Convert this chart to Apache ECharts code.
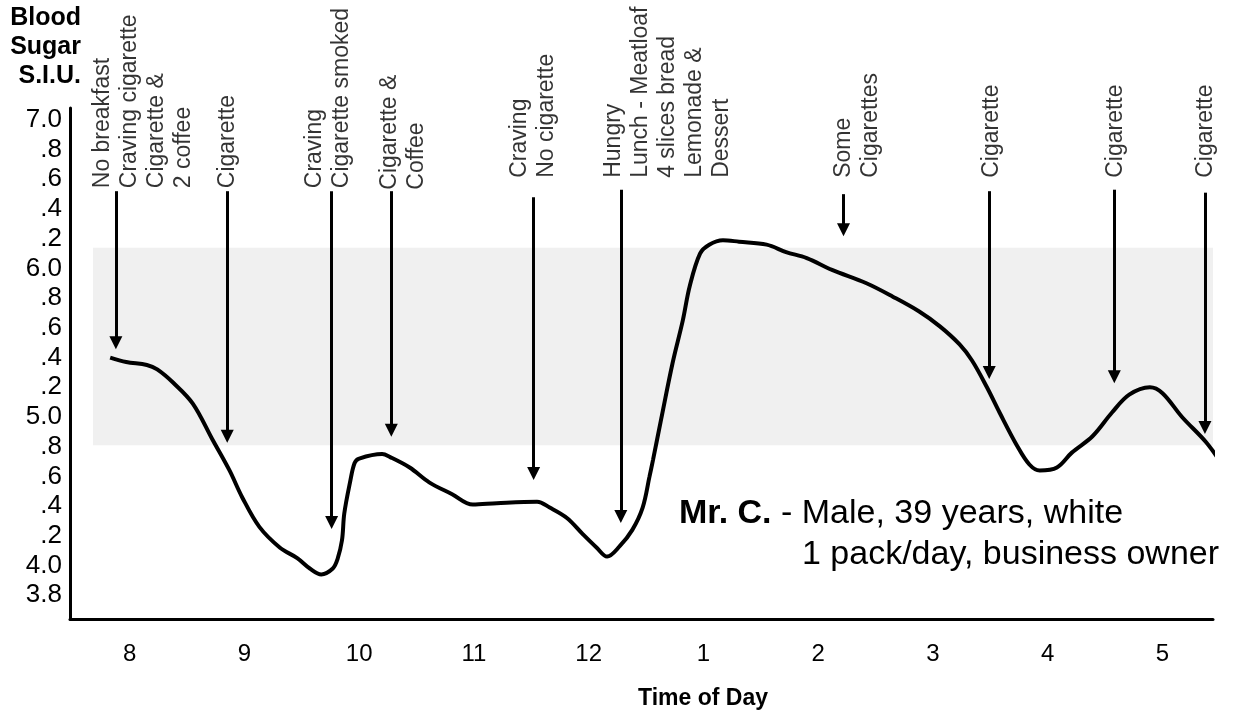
<!DOCTYPE html>
<html><head><meta charset="utf-8">
<script src="https://cdn.jsdelivr.net/npm/echarts@6/dist/echarts.min.js"></script>
<style>html,body{margin:0;padding:0;background:#fff}#c{width:1244px;height:715px}</style>
</head><body><div id="c"></div>
<script>
// Time of day (hours, 24h clock) and blood sugar (S.I.U.)
const timeHours = [7.83, 7.97, 8.15, 8.24, 8.38, 8.55, 8.72, 8.87, 8.98, 9.13, 9.31, 9.46, 9.57, 9.67, 9.77, 9.81, 9.85, 9.87, 9.92, 9.96, 10.00, 10.20, 10.27, 10.44, 10.61, 10.81, 10.99, 11.20, 11.55, 11.66, 11.81, 11.95, 12.07, 12.16, 12.27, 12.38, 12.47, 12.53, 12.56, 12.63, 12.73, 12.82, 12.88, 12.97, 13.05, 13.17, 13.31, 13.55, 13.72, 13.90, 14.12, 14.42, 14.65, 14.88, 15.06, 15.23, 15.34, 15.47, 15.58, 15.73, 15.84, 15.93, 16.08, 16.21, 16.39, 16.56, 16.71, 16.89, 17.00, 17.17, 17.38, 17.52];
const bloodSugar = [5.40, 5.37, 5.35, 5.32, 5.23, 5.09, 4.85, 4.64, 4.46, 4.26, 4.12, 4.05, 3.98, 3.94, 3.98, 4.04, 4.17, 4.35, 4.56, 4.69, 4.72, 4.75, 4.73, 4.66, 4.56, 4.48, 4.41, 4.42, 4.43, 4.39, 4.32, 4.21, 4.12, 4.06, 4.13, 4.24, 4.39, 4.60, 4.71, 4.98, 5.36, 5.65, 5.88, 6.10, 6.16, 6.19, 6.18, 6.16, 6.11, 6.07, 5.99, 5.90, 5.81, 5.71, 5.61, 5.49, 5.38, 5.20, 5.03, 4.81, 4.68, 4.64, 4.66, 4.76, 4.87, 5.03, 5.15, 5.20, 5.16, 5.00, 4.83, 4.68];

// Normal range band
const bandLow = 4.81;
const bandHigh = 6.14;
const bandStart = 7.68;
const bandEnd = 17.49;

// Event annotations
const noteTexts = [
  'No breakfast\nCraving cigarette\nCigarette &\n2 coffee',
  'Cigarette',
  'Craving\nCigarette smoked',
  'Cigarette &\nCoffee',
  'Craving\nNo cigarette',
  'Hungry\nLunch - Meatloaf\n4 slices bread\nLemonade &\nDessert',
  'Some\nCigarettes',
  'Cigarette',
  'Cigarette',
  'Cigarette'
];
const noteX = [8.12, 8.85, 9.73, 10.38, 11.52, 12.69, 14.34, 15.51, 16.59, 17.38];
const noteY = [6.54, 6.54, 6.54, 6.53, 6.61, 6.61, 6.61, 6.61, 6.61, 6.61];
const arrowX = [7.88, 8.85, 9.76, 10.28, 11.52, 12.28, 14.22, 15.49, 16.58, 17.37];
const arrowTop = [6.52, 6.52, 6.52, 6.52, 6.48, 6.53, 6.50, 6.52, 6.53, 6.51];
const arrowTip = [5.50, 4.87, 4.29, 4.91, 4.62, 4.33, 6.26, 5.30, 5.27, 4.93];

// Axis ranges
const xMin = 7.48, xMax = 17.44, xStep = 0.04;
const yMin = 3.64, yMax = 7.08, yStep = 0.04;

const FONT = "'Liberation Sans', Arial, Helvetica, sans-serif";
const INK = '#000';

const chart = echarts.init(document.getElementById('c'), null, {renderer: 'canvas'});

const curveData = timeHours.map((t, i) => [t, bloodSugar[i]]);
const noteData = noteTexts.map((t, i) => ({value: [noteX[i], noteY[i]], name: t}));
const arrowLines = arrowX.map((x, i) => [{coord: [x, arrowTop[i]]}, {coord: [x, arrowTip[i]]}]);

function yLabel(v) {
  const r = Math.round(v * 100) / 100;
  if (Math.abs(r * 5 - Math.round(r * 5)) > 1e-6) return '';
  if (r < 3.79 || r > 7.01) return '';
  if (Math.abs(r - Math.round(r)) < 1e-6 || Math.abs(r - 3.8) < 1e-6) return r.toFixed(1);
  return '.' + (Math.round(r * 10) % 10);
}
function xLabel(v) {
  const r = Math.round(v * 100) / 100;
  if (Math.abs(r - Math.round(r)) > 1e-6) return '';
  const h = Math.round(r);
  if (h < 8 || h > 17) return '';
  return String(h > 12 ? h - 12 : h);
}

chart.setOption({
  animation: false,
  backgroundColor: '#fff',
  grid: {left: 70, right: 31, top: 108, bottom: 96, containLabel: false},
  xAxis: {
    type: 'value', min: xMin, max: xMax, interval: xStep,
    axisLine: {show: true, lineStyle: {color: INK, width: 3}},
    axisTick: {show: false},
    splitLine: {show: false},
    axisLabel: {formatter: xLabel, color: INK, fontSize: 24, fontFamily: FONT, margin: 23}
  },
  yAxis: {
    type: 'value', min: yMin, max: yMax, interval: yStep,
    axisLine: {show: true, lineStyle: {color: INK, width: 3}},
    axisTick: {show: false},
    splitLine: {show: false},
    axisLabel: {formatter: yLabel, color: INK, fontSize: 26, fontFamily: FONT, margin: 8}
  },
  graphic: [
    {type: 'text', style: {x: 81, y: 4, text: 'Blood\nSugar\nS.I.U.', textAlign: 'right', textVerticalAlign: 'top', font: 'bold 25px ' + FONT, lineHeight: 29, fill: INK}},
    {type: 'text', style: {x: 703, y: 699, text: 'Time of Day', textAlign: 'center', textVerticalAlign: 'middle', font: 'bold 23px ' + FONT, fill: INK}},
    {type: 'text', style: {x: 679, y: 514, text: '{b|Mr. C.} - Male, 39 years, white', textVerticalAlign: 'middle', font: '34px ' + FONT, fill: INK,
      rich: {b: {font: 'bold 34px ' + FONT, fill: INK}}}},
    {type: 'text', style: {x: 802, y: 555, text: '1 pack/day, business owner', textVerticalAlign: 'middle', font: '34px ' + FONT, fill: INK}}
  ],
  series: [
    {
      type: 'line',
      data: curveData,
      smooth: 0.35,
      showSymbol: false,
      clip: false,
      z: 5,
      lineStyle: {color: INK, width: 4},
      silent: true,
      markArea: {
        silent: true,
        itemStyle: {color: '#f0f0f0'},
        data: [[{coord: [bandStart, bandLow]}, {coord: [bandEnd, bandHigh]}]]
      },
      markLine: {
        silent: true,
        symbol: ['none', 'none'],
        label: {show: false},
        lineStyle: {color: INK, width: 3, type: 'solid'},
        data: [
          [{coord: [bandStart, bandHigh]}, {coord: [bandEnd, bandHigh]}],
          [{coord: [bandStart, bandLow]}, {coord: [bandEnd, bandLow]}]
        ]
      }
    },
    {
      type: 'scatter',
      data: noteData,
      symbol: 'circle',
      symbolSize: 1,
      clip: false,
      silent: true,
      z: 6,
      itemStyle: {color: 'rgba(0,0,0,0)'},
      label: {
        show: true,
        position: 'inside',
        rotate: 90,
        align: 'left',
        verticalAlign: 'middle',
        formatter: p => p.name,
        color: INK,
        textBorderWidth: 0,
        textBorderColor: 'transparent',
        fontSize: 23,
        fontFamily: FONT,
        lineHeight: 27
      },
      markLine: {
        silent: true,
        symbol: ['none', 'triangle'],
        symbolSize: 13,
        label: {show: false},
        lineStyle: {color: INK, width: 3, type: 'solid'},
        data: arrowLines
      }
    }
  ]
});
</script>
</body></html>
